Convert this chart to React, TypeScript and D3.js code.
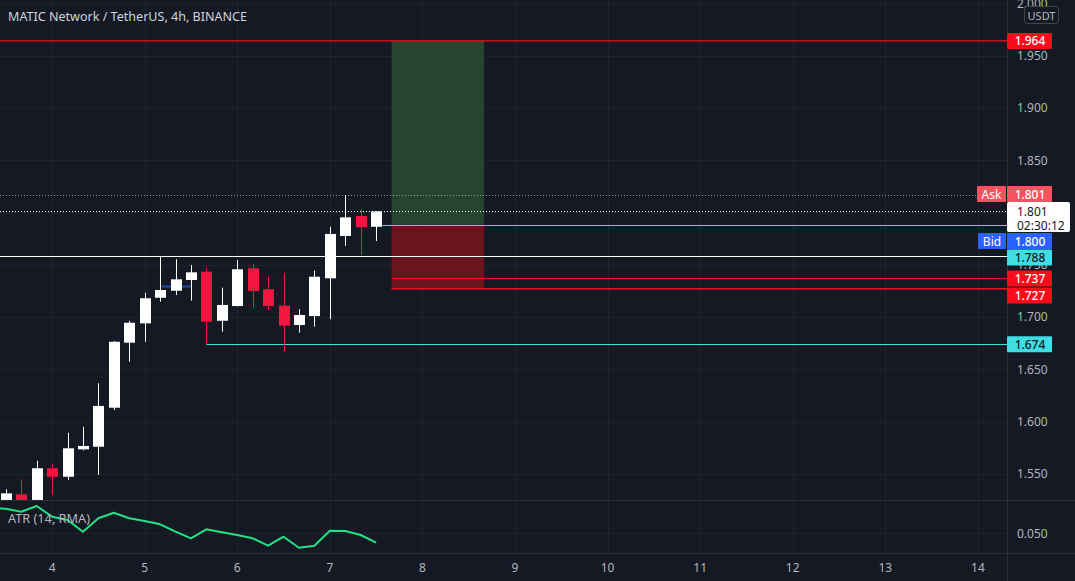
import React from 'react';
import * as d3 from 'd3';

const W = 1075;
const H = 581;

// ---- data ----
const opens = [1.525, 1.5304, 1.525, 1.5553, 1.5472, 1.5734, 1.5759, 1.6132, 1.6754, 1.6939, 1.7184, 1.7251, 1.7354, 1.7433, 1.6964, 1.7105, 1.7466, 1.7265, 1.7108, 1.6923, 1.7009, 1.737, 1.7775, 1.7966, 1.7863];
const highs = [1.5352, 1.5447, 1.5625, 1.5591, 1.5893, 1.595, 1.6366, 1.677, 1.6964, 1.7232, 1.7577, 1.7552, 1.7497, 1.7466, 1.728, 1.7545, 1.7507, 1.7385, 1.7423, 1.7073, 1.7443, 1.7863, 1.8167, 1.803, 1.8012];
const lows = [1.522, 1.522, 1.5245, 1.5297, 1.5441, 1.5725, 1.5489, 1.611, 1.6572, 1.6763, 1.7146, 1.721, 1.7156, 1.674, 1.6859, 1.71, 1.7083, 1.7073, 1.6668, 1.685, 1.6907, 1.6978, 1.7679, 1.7593, 1.7727];
const closes = [1.5313, 1.525, 1.5553, 1.5472, 1.5744, 1.5766, 1.6149, 1.6763, 1.6945, 1.7179, 1.7258, 1.736, 1.7427, 1.6955, 1.7115, 1.7456, 1.7248, 1.7105, 1.6917, 1.7019, 1.7385, 1.7794, 1.7953, 1.7858, 1.801];
// ATR values start one bar before the first visible candle (index -1)
const atrValues = [0.0755, 0.0745, 0.0716, 0.0773, 0.0666, 0.0633, 0.0516, 0.065, 0.0706, 0.065, 0.0623, 0.059, 0.0516, 0.045, 0.054, 0.051, 0.0483, 0.045, 0.0376, 0.0466, 0.0356, 0.0376, 0.0526, 0.0523, 0.0483, 0.0406];
const dayLabels = ['4', '5', '6', '7', '8', '9', '10', '11', '12', '13', '14'];
const priceTicks = [1.55, 1.6, 1.65, 1.7, 1.75, 1.8, 1.85, 1.9, 1.95, 2.0];
const atrTicks = [0.05];

const targetPrice = 1.964;
const entryPrice = 1.788;
const stopPrice = 1.727;
const stop2Price = 1.737;
const supportPrice = 1.674;
const resistancePrice = 1.758;
const lastPrice = 1.801;
const askPrice = 1.801;
const bidPrice = 1.8;
const highLinePrice = 1.8167;
const blueLinePrice = 1.7296;

// ---- layout ----
const AXIS_X = 1007;
const PRICE_BOTTOM = 500;
const ATR_BOTTOM = 553;

const xBar = d3.scaleLinear().domain([0, 1]).range([5.8, 5.8 + 15.43]);
const yPrice = d3.scaleLinear().domain([1.55, 1.95]).range([473.8, 55.6]);
const yAtr = d3.scaleLinear().domain([0.05, 0.075]).range([533.3, 508.3]);

const BG = '#151924';
const GRID = '#1f2330';
const BORDER = '#2a2e39';
const TXT = '#b2b5be';
const UP = '#ffffff';
const DOWN = '#f3153f';
const CYAN = '#3fdde4';
const RED = '#f70d1a';
const FONT = "'Noto Sans', 'DejaVu Sans', sans-serif";

function Box({ y, fill, text, color, w = 45 }: { y: number; fill: string; text: string; color: string; w?: number }) {
  return (
    <g>
      <rect x={AXIS_X} y={y - 8} width={w} height={16} fill={fill} rx={1} />
      <text x={AXIS_X + 23} y={y} textAnchor="middle" dominantBaseline="central" fill={color} fontSize={12} fontWeight={500} fontFamily={FONT}>
        {text}
      </text>
    </g>
  );
}

export default function App() {
  const n = opens.length;
  const dayIdx = dayLabels.map((_, k) => 3 + 6 * k);
  const atrLine = d3
    .line<number>()
    .x((_, i) => xBar(i - 1))
    .y((d) => yAtr(d));

  const crisp = (v: number) => Math.round(v) + 0.5;

  return (
    <svg width={W} height={H} style={{ position: 'fixed', left: 0, top: 0, background: BG }} fontFamily={FONT}>
      <defs>
        <clipPath id="pricePane">
          <rect x={0} y={0} width={AXIS_X} height={PRICE_BOTTOM} />
        </clipPath>
        <clipPath id="atrPane">
          <rect x={0} y={PRICE_BOTTOM + 1} width={AXIS_X} height={ATR_BOTTOM - PRICE_BOTTOM - 1} />
        </clipPath>
      </defs>
      <rect x={0} y={0} width={W} height={H} fill={BG} />

      {/* vertical grid */}
      {dayIdx.map((d, k) => (
        <line key={'vg' + k} x1={crisp(xBar(d))} x2={crisp(xBar(d))} y1={0} y2={ATR_BOTTOM} stroke={GRID} />
      ))}
      {/* horizontal grid price */}
      {priceTicks.map((t, k) => (
        <line key={'hg' + k} x1={0} x2={AXIS_X} y1={crisp(yPrice(t))} y2={crisp(yPrice(t))} stroke={GRID} />
      ))}
      {atrTicks.map((t, k) => (
        <line key={'ag' + k} x1={0} x2={AXIS_X} y1={crisp(yAtr(t))} y2={crisp(yAtr(t))} stroke={GRID} />
      ))}

      <g clipPath="url(#pricePane)">
        {/* position tool */}
        <rect x={xBar(25)} y={yPrice(targetPrice)} width={xBar(31) - xBar(25)} height={yPrice(entryPrice) - yPrice(targetPrice)} fill="#26452f" />
        <rect x={xBar(25)} y={yPrice(entryPrice)} width={xBar(31) - xBar(25)} height={yPrice(stopPrice) - yPrice(entryPrice)} fill="#6a141d" />

        {/* horizontal levels */}
        <line x1={0} x2={AXIS_X} y1={yPrice(targetPrice)} y2={yPrice(targetPrice)} stroke={RED} strokeWidth={1.3} />
        <line x1={0} x2={AXIS_X} y1={crisp(yPrice(highLinePrice))} y2={crisp(yPrice(highLinePrice))} stroke="#9598a1" strokeDasharray="1,2" />
        <line x1={0} x2={AXIS_X} y1={crisp(yPrice(lastPrice))} y2={crisp(yPrice(lastPrice))} stroke="#ffffff" strokeDasharray="1,2" />
        <line x1={xBar(24.4)} x2={AXIS_X} y1={crisp(yPrice(entryPrice))} y2={crisp(yPrice(entryPrice))} stroke={CYAN} />
        <line x1={0} x2={AXIS_X} y1={crisp(yPrice(resistancePrice))} y2={crisp(yPrice(resistancePrice))} stroke="#ffffff" />
        <line x1={xBar(25)} x2={AXIS_X} y1={crisp(yPrice(stop2Price))} y2={crisp(yPrice(stop2Price))} stroke={RED} />
        <line x1={xBar(25)} x2={AXIS_X} y1={yPrice(stopPrice)} y2={yPrice(stopPrice)} stroke={RED} strokeWidth={1.3} />
        <line x1={xBar(13)} x2={AXIS_X} y1={crisp(yPrice(supportPrice))} y2={crisp(yPrice(supportPrice))} stroke={CYAN} />
        <line x1={xBar(10.1)} x2={xBar(12)} y1={crisp(yPrice(blueLinePrice))} y2={crisp(yPrice(blueLinePrice))} stroke="#1e4fb0" strokeWidth={2} />

        {/* candles */}
        {d3.range(n).map((i) => {
          const o = opens[i], c = closes[i], hi = highs[i], lo = lows[i];
          const up = c >= o;
          const col = up ? UP : DOWN;
          const x = xBar(i);
          const top = yPrice(Math.max(o, c));
          const bot = yPrice(Math.min(o, c));
          return (
            <g key={'c' + i}>
              <line x1={crisp(x)} x2={crisp(x)} y1={yPrice(hi)} y2={yPrice(lo)} stroke={col} />
              <rect x={Math.round(x) - 5} y={top} width={11} height={Math.max(1, bot - top)} fill={col} />
            </g>
          );
        })}
      </g>

      {/* title */}
      <text x={8} y={16} dominantBaseline="central" fill="#d1d4dc" fontSize={13} textLength={239} lengthAdjust="spacingAndGlyphs">
        MATIC Network / TetherUS, 4h, BINANCE
      </text>

      {/* ATR pane */}
      <g clipPath="url(#atrPane)">
        <path d={atrLine(atrValues) || ''} fill="none" stroke="#22e383" strokeWidth={2} strokeLinejoin="round" />
      </g>
      <text x={8} y={518} dominantBaseline="central" fill={TXT} fontSize={12.5} textLength={82} lengthAdjust="spacingAndGlyphs">
        ATR (14, RMA)
      </text>

      {/* borders */}
      <line x1={0} x2={W} y1={PRICE_BOTTOM + 0.5} y2={PRICE_BOTTOM + 0.5} stroke={BORDER} />
      <line x1={0} x2={W} y1={ATR_BOTTOM + 0.5} y2={ATR_BOTTOM + 0.5} stroke={BORDER} />
      <line x1={AXIS_X + 0.5} x2={AXIS_X + 0.5} y1={0} y2={H} stroke={BORDER} />

      {/* price axis ticks */}
      {priceTicks.map((t, k) => (
        <text key={'pt' + k} x={AXIS_X + 10} y={yPrice(t)} dominantBaseline="central" fill={TXT} fontSize={12}>
          {d3.format('.3f')(t)}
        </text>
      ))}
      {atrTicks.map((t, k) => (
        <text key={'at' + k} x={AXIS_X + 10} y={yAtr(t)} dominantBaseline="central" fill={TXT} fontSize={12}>
          {d3.format('.3f')(t)}
        </text>
      ))}
      {/* time axis */}
      {dayIdx.map((d, k) => (
        <text key={'tl' + k} x={xBar(d)} y={567} textAnchor="middle" dominantBaseline="central" fill={TXT} fontSize={12}>
          {dayLabels[k]}
        </text>
      ))}

      {/* USDT */}
      <rect x={1024.5} y={6.5} width={34} height={17} rx={3} fill={BG} stroke="#434651" />
      <text x={1041.5} y={15.5} textAnchor="middle" dominantBaseline="central" fill={TXT} fontSize={11}>USDT</text>

      {/* price labels */}
      <Box y={yPrice(targetPrice)} fill={RED} text={d3.format('.3f')(targetPrice)} color="#ffffff" />
      {/* Ask */}
      <rect x={977} y={186} width={29} height={16} fill="#f7525f" rx={1} />
      <text x={991.5} y={194} textAnchor="middle" dominantBaseline="central" fill="#ffffff" fontSize={12}>Ask</text>
      <Box y={194} fill="#f7525f" text={d3.format('.3f')(askPrice)} color="#ffffff" />
      {/* last price */}
      <rect x={AXIS_X} y={202} width={63} height={30} fill="#ffffff" rx={2} />
      <text x={AXIS_X + 10} y={211} dominantBaseline="central" fill="#131722" fontSize={12}>{d3.format('.3f')(lastPrice)}</text>
      <text x={AXIS_X + 10} y={225} dominantBaseline="central" fill="#131722" fontSize={12}>02:30:12</text>
      {/* Bid */}
      <rect x={978} y={233} width={28} height={16} fill="#2962ff" rx={1} />
      <text x={992} y={241} textAnchor="middle" dominantBaseline="central" fill="#ffffff" fontSize={12}>Bid</text>
      <Box y={241} fill="#2962ff" text={d3.format('.3f')(bidPrice)} color="#ffffff" />
      <Box y={257.5} fill={CYAN} text={d3.format('.3f')(entryPrice)} color="#131722" />
      <Box y={278.5} fill={RED} text={d3.format('.3f')(stop2Price)} color="#ffffff" />
      <Box y={295.5} fill={RED} text={d3.format('.3f')(stopPrice)} color="#ffffff" />
      <Box y={yPrice(supportPrice)} fill={CYAN} text={d3.format('.3f')(supportPrice)} color="#131722" />
    </svg>
  );
}
